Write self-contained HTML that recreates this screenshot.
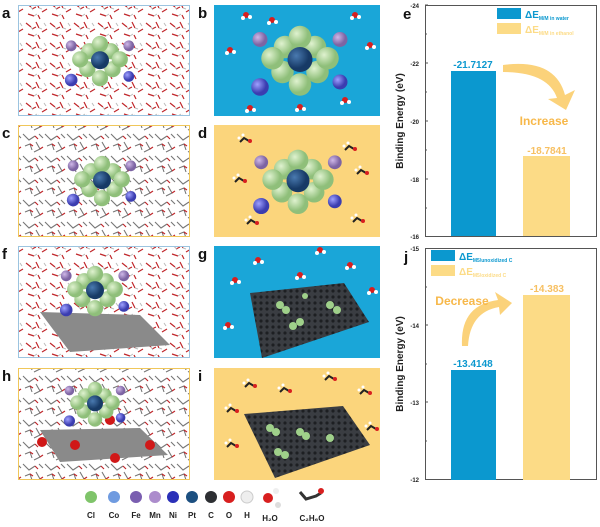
<!DOCTYPE html>
<html><head><meta charset="utf-8"><style>
body{margin:0;background:#fff;}
svg{display:block;font-family:"Liberation Sans",sans-serif;}
</style></head><body>
<svg width="600" height="527" viewBox="0 0 600 527">
<defs>
<pattern id="water" width="24" height="20" patternUnits="userSpaceOnUse">
<path d="M2 3 l5 4 M12 2 l3 6 M18 12 l5 -3 M4 14 l6 2 M14 15 l2 4 M8 9 l4 -2" stroke="#c0262a" stroke-width="1.2"/>
<path d="M7 7 l2 3 M15 8 l3 1 M10 16 l3 -2 M20 3 l2 3" stroke="#bbb" stroke-width="1"/>
</pattern>
<pattern id="eth" width="22" height="22" patternUnits="userSpaceOnUse">
<path d="M1 2 l6 6 l6 -4 M14 10 l4 7 l-6 3 M3 14 l5 -2 l2 6 M17 2 l4 4" stroke="#777" stroke-width="1.1" fill="none"/>
<path d="M13 4 l3 3 M8 12 l3 2 M18 17 l3 -2" stroke="#c0262a" stroke-width="1.2"/>
</pattern>
<pattern id="grid" width="6" height="6" patternUnits="userSpaceOnUse">
<rect width="6" height="6" fill="#3a3d42"/><circle cx="3" cy="3" r="1.6" fill="#1d1f22"/>
</pattern>
<radialGradient id="gcl" cx="35%" cy="35%"><stop offset="0" stop-color="#dff2cf"/><stop offset="1" stop-color="#8fbf7a"/></radialGradient>
<radialGradient id="gpt" cx="35%" cy="35%"><stop offset="0" stop-color="#4a7ab0"/><stop offset="1" stop-color="#173a66"/></radialGradient>
<radialGradient id="gni" cx="35%" cy="35%"><stop offset="0" stop-color="#9ea0ff"/><stop offset="1" stop-color="#3b3db0"/></radialGradient>
<radialGradient id="gmn" cx="35%" cy="35%"><stop offset="0" stop-color="#cfb8e8"/><stop offset="1" stop-color="#7d64a3"/></radialGradient>
<g id="clus">
<circle cx="-12" cy="-12" r="9" fill="url(#gcl)"/><circle cx="12" cy="-12" r="9" fill="url(#gcl)"/>
<circle cx="-14" cy="8" r="9" fill="url(#gcl)"/><circle cx="14" cy="8" r="9" fill="url(#gcl)"/>
<circle cx="0" cy="-20" r="9" fill="url(#gcl)"/><circle cx="0" cy="18" r="9" fill="url(#gcl)"/>
<circle cx="-22" cy="-3" r="9" fill="url(#gcl)"/><circle cx="22" cy="-3" r="9" fill="url(#gcl)"/>
<circle cx="0" cy="-2" r="10" fill="url(#gpt)"/>
<circle cx="-32" cy="-18" r="6" fill="url(#gmn)"/><circle cx="32" cy="-18" r="6" fill="url(#gmn)"/>
<circle cx="-32" cy="20" r="7" fill="url(#gni)"/><circle cx="32" cy="16" r="6" fill="url(#gni)"/>
</g>
<g id="h2o"><circle r="3" fill="#d81f1f"/><circle cx="4" cy="2" r="2" fill="#fff"/><circle cx="-3" cy="3" r="2" fill="#fff"/></g>
<g id="etoh"><path d="M-5 2 l4 -4 l5 3" stroke="#222" stroke-width="2" fill="none"/><circle cx="5" cy="1" r="2" fill="#d81f1f"/><circle cx="-6" cy="-2" r="1.5" fill="#fff"/><circle cx="-2" cy="-5" r="1.5" fill="#fff"/></g>
</defs>

<!-- labels -->
<g font-weight="bold" font-size="15" fill="#111">
<text x="2" y="18">a</text><text x="198" y="18">b</text>
<text x="2" y="138">c</text><text x="198" y="138">d</text>
<text x="2" y="259">f</text><text x="198" y="259">g</text>
<text x="2" y="381">h</text><text x="198" y="381">i</text>
<text x="403" y="19">e</text><text x="404" y="262">j</text>
</g>

<!-- a -->
<rect x="18" y="5" width="172" height="111" fill="#fff"/>
<rect x="18" y="5" width="172" height="111" fill="url(#water)"/>
<rect x="18.5" y="5.5" width="171" height="110" fill="none" stroke="#9cc4e0"/>
<use href="#clus" transform="translate(100,62) scale(0.9)"/>
<!-- b -->
<rect x="214" y="5" width="166" height="111" fill="#1aa6d8"/>
<use href="#clus" transform="translate(300,62) scale(1.25)"/>
<use href="#h2o" x="246" y="15"/><use href="#h2o" x="230" y="50"/><use href="#h2o" x="272" y="20"/><use href="#h2o" x="355" y="15"/><use href="#h2o" x="370" y="45"/><use href="#h2o" x="300" y="107"/><use href="#h2o" x="345" y="100"/><use href="#h2o" x="250" y="108"/>
<!-- c -->
<rect x="18" y="125" width="172" height="112" fill="#fff"/>
<rect x="18" y="125" width="172" height="112" fill="url(#eth)"/>
<rect x="18.5" y="125.5" width="171" height="111" fill="none" stroke="#f0c75a"/>
<use href="#clus" transform="translate(102,182) scale(0.9)"/>
<!-- d -->
<rect x="214" y="125" width="166" height="112" fill="#fbd57c"/>
<use href="#clus" transform="translate(298,183) scale(1.15)"/>
<use href="#etoh" x="245" y="140"/><use href="#etoh" x="350" y="148"/><use href="#etoh" x="240" y="180"/><use href="#etoh" x="362" y="172"/><use href="#etoh" x="358" y="220"/><use href="#etoh" x="252" y="222"/>
<!-- f -->
<rect x="18" y="246" width="172" height="112" fill="#fff"/>
<rect x="18" y="246" width="172" height="112" fill="url(#water)"/>
<polygon points="40,312 140,315 170,345 70,352" fill="#8a8a8a"/>
<rect x="18.5" y="246.5" width="171" height="111" fill="none" stroke="#9cc4e0"/>
<use href="#clus" transform="translate(95,292) scale(0.9)"/>
<!-- g -->
<rect x="214" y="246" width="166" height="112" fill="#1aa6d8"/>
<polygon points="250,293 344,283 369,322 262,358" fill="url(#grid)"/>
<g fill="#9fd08a"><circle cx="280" cy="305" r="4"/><circle cx="286" cy="310" r="4"/><circle cx="330" cy="305" r="4"/><circle cx="337" cy="310" r="4"/><circle cx="293" cy="326" r="4"/><circle cx="300" cy="322" r="4"/><circle cx="305" cy="296" r="3"/></g>
<use href="#h2o" x="235" y="280"/><use href="#h2o" x="258" y="260"/><use href="#h2o" x="300" y="275"/><use href="#h2o" x="350" y="265"/><use href="#h2o" x="372" y="290"/><use href="#h2o" x="228" y="325"/><use href="#h2o" x="320" y="250"/>
<!-- h -->
<rect x="18" y="368" width="172" height="112" fill="#fff"/>
<rect x="18" y="368" width="172" height="112" fill="url(#eth)"/>
<polygon points="40,430 140,428 168,455 60,462" fill="#8a8a8a"/>
<g fill="#d01818"><circle cx="42" cy="442" r="5"/><circle cx="75" cy="445" r="5"/><circle cx="115" cy="458" r="5"/><circle cx="150" cy="445" r="5"/><circle cx="110" cy="420" r="5"/></g>
<rect x="18.5" y="368.5" width="171" height="111" fill="none" stroke="#f0c75a"/>
<use href="#clus" transform="translate(95,405) scale(0.8)"/>
<!-- i -->
<rect x="214" y="368" width="166" height="112" fill="#fbd57c"/>
<polygon points="244,414 343,406 370,445 275,478" fill="url(#grid)"/>
<g fill="#9fd08a"><circle cx="270" cy="428" r="4"/><circle cx="276" cy="432" r="4"/><circle cx="300" cy="432" r="4"/><circle cx="306" cy="436" r="4"/><circle cx="278" cy="452" r="4"/><circle cx="285" cy="455" r="4"/><circle cx="330" cy="438" r="4"/></g>
<use href="#etoh" x="232" y="410"/><use href="#etoh" x="250" y="385"/><use href="#etoh" x="285" y="390"/><use href="#etoh" x="330" y="378"/><use href="#etoh" x="365" y="392"/><use href="#etoh" x="232" y="445"/><use href="#etoh" x="372" y="428"/>
<!-- legend -->
<g>
<circle cx="91" cy="497" r="6" fill="#7fc46a"/><circle cx="114" cy="497" r="6" fill="#6f9be0"/>
<circle cx="136" cy="497" r="6" fill="#7a5eb0"/><circle cx="155" cy="497" r="6" fill="#ac8ccc"/>
<circle cx="173" cy="497" r="6" fill="#2a2fb8"/><circle cx="192" cy="497" r="6" fill="#1c4f80"/>
<circle cx="211" cy="497" r="6" fill="#2d2f33"/><circle cx="229" cy="497" r="6" fill="#d81f1f"/>
<circle cx="247" cy="497" r="6" fill="#eee" stroke="#ccc"/>
<circle cx="268" cy="498" r="5" fill="#d81f1f"/><circle cx="276" cy="491" r="3" fill="#eee"/><circle cx="278" cy="505" r="3" fill="#ddd"/>
<path d="M300 492 l6 7 l10 -3 l5 -3" stroke="#333" stroke-width="3" fill="none"/><circle cx="321" cy="491" r="3" fill="#d81f1f"/>
</g>
<g font-size="8" font-weight="bold" fill="#222" text-anchor="middle">
<text x="91" y="518">Cl</text><text x="114" y="518">Co</text><text x="136" y="518">Fe</text><text x="155" y="518">Mn</text>
<text x="173" y="518">Ni</text><text x="192" y="518">Pt</text><text x="211" y="518">C</text><text x="229" y="518">O</text><text x="247" y="518">H</text>
<text x="270" y="521">H₂O</text><text x="312" y="521">C₂H₆O</text>
</g>

<!-- chart e -->
<rect x="425.5" y="5.5" width="171" height="231" fill="#fff" stroke="#555"/>
<rect x="451" y="71" width="45" height="165" fill="#0b98cf"/>
<rect x="523" y="156" width="47" height="80" fill="#fcdb86"/>
<g font-size="6" font-weight="bold" fill="#222" text-anchor="end">
<text x="419" y="8">-24</text><text x="419" y="66">-22</text><text x="419" y="124">-20</text><text x="419" y="182">-18</text><text x="419" y="239">-16</text>
</g>
<g stroke="#555"><path d="M425 5h3M425 34h2M425 63h3M425 92h2M425 121h3M425 150h2M425 179h3M425 208h2"/></g>
<text transform="translate(403,121) rotate(-90)" font-size="10" font-weight="bold" text-anchor="middle" fill="#222">Binding Energy (eV)</text>
<rect x="497" y="8" width="24" height="11" fill="#0b98cf"/><rect x="497" y="23" width="24" height="11" fill="#fcdb86"/>
<text x="525" y="18" font-size="10" font-weight="bold" fill="#0b98cf">ΔE<tspan font-size="5" dy="2">M/M in water</tspan></text>
<text x="525" y="33" font-size="10" font-weight="bold" fill="#fcdb86">ΔE<tspan font-size="5" dy="2">M/M in ethanol</tspan></text>
<text x="473" y="68" font-size="10" font-weight="bold" fill="#0b98cf" text-anchor="middle">-21.7127</text>
<text x="547" y="154" font-size="10" font-weight="bold" fill="#f7c062" text-anchor="middle">-18.7841</text>
<path d="M503 65 Q555 58 565 95 L575 90 L566 110 L548 99 L557 98 Q548 72 503 72 Z" fill="#fbd27a"/>
<text x="544" y="125" font-size="12" font-weight="bold" fill="#f7b84a" text-anchor="middle">Increase</text>

<!-- chart j -->
<rect x="425.5" y="248.5" width="171" height="231" fill="#fff" stroke="#555"/>
<rect x="451" y="370" width="45" height="110" fill="#0b98cf"/>
<rect x="523" y="295" width="47" height="185" fill="#fcdb86"/>
<g font-size="6" font-weight="bold" fill="#222" text-anchor="end">
<text x="419" y="251">-15</text><text x="419" y="328">-14</text><text x="419" y="405">-13</text><text x="419" y="482">-12</text>
</g>
<g stroke="#555"><path d="M425 287h2M425 325h3M425 364h2M425 402h3M425 441h2"/></g>
<text transform="translate(403,364) rotate(-90)" font-size="10" font-weight="bold" text-anchor="middle" fill="#222">Binding Energy (eV)</text>
<rect x="431" y="250" width="24" height="11" fill="#0b98cf"/><rect x="431" y="265" width="24" height="11" fill="#fcdb86"/>
<text x="459" y="260" font-size="10" font-weight="bold" fill="#0b98cf">ΔE<tspan font-size="5" dy="2">M5/unoxidized C</tspan></text>
<text x="459" y="275" font-size="10" font-weight="bold" fill="#fcdb86">ΔE<tspan font-size="5" dy="2">M5/oxidized C</tspan></text>
<text x="473" y="367" font-size="10" font-weight="bold" fill="#0b98cf" text-anchor="middle">-13.4148</text>
<text x="547" y="292" font-size="10" font-weight="bold" fill="#f7c062" text-anchor="middle">-14.383</text>
<path d="M462 346 Q460 305 498 300 L495 292 L512 303 L500 315 L499 307 Q470 312 468 346 Z" fill="#fbd27a"/>
<text x="462" y="305" font-size="12" font-weight="bold" fill="#f7b84a" text-anchor="middle">Decrease</text>
</svg>
</body></html>
